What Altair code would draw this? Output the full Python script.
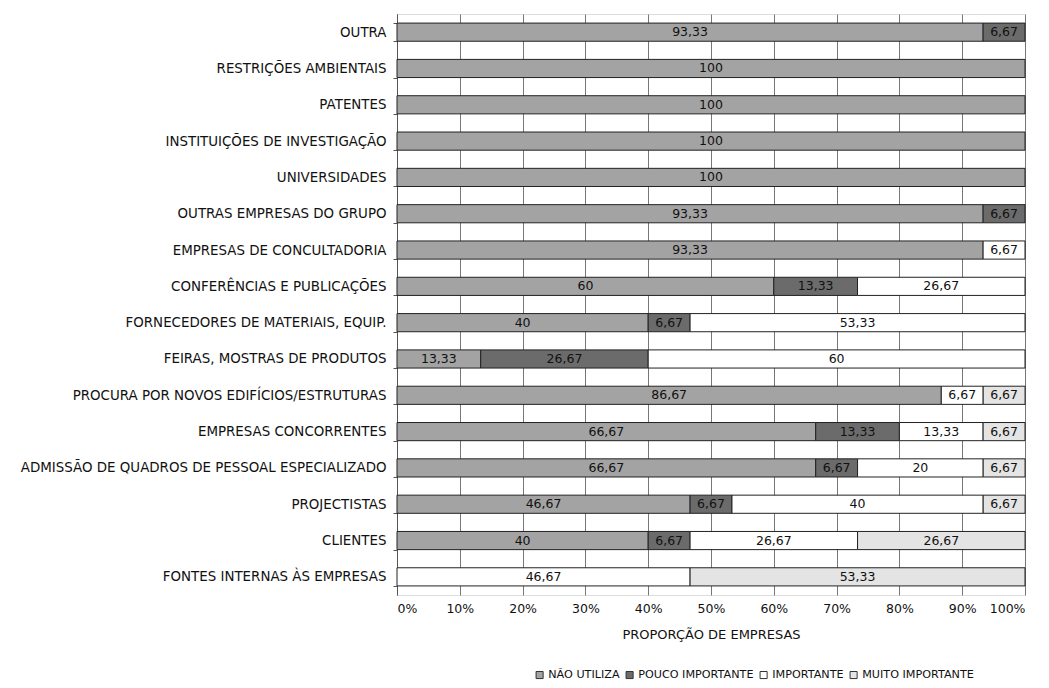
import altair as alt
import pandas as pd

categories = [
    "OUTRA",
    "RESTRIÇÕES AMBIENTAIS",
    "PATENTES",
    "INSTITUIÇÕES DE INVESTIGAÇÃO",
    "UNIVERSIDADES",
    "OUTRAS EMPRESAS DO GRUPO",
    "EMPRESAS DE CONCULTADORIA",
    "CONFERÊNCIAS E PUBLICAÇÕES",
    "FORNECEDORES DE MATERIAIS, EQUIP.",
    "FEIRAS, MOSTRAS DE PRODUTOS",
    "PROCURA POR NOVOS EDIFÍCIOS/ESTRUTURAS",
    "EMPRESAS CONCORRENTES",
    "ADMISSÃO DE QUADROS DE PESSOAL ESPECIALIZADO",
    "PROJECTISTAS",
    "CLIENTES",
    "FONTES INTERNAS ÀS EMPRESAS",
]
series = ["NÃO UTILIZA", "POUCO IMPORTANTE", "IMPORTANTE", "MUITO IMPORTANTE"]
nao_utiliza = [93.33, 100, 100, 100, 100, 93.33, 93.33, 60, 40, 13.33, 86.67, 66.67, 66.67, 46.67, 40, 0]
pouco_importante = [6.67, 0, 0, 0, 0, 6.67, 0, 13.33, 6.67, 26.67, 0, 13.33, 6.67, 6.67, 6.67, 0]
importante = [0, 0, 0, 0, 0, 0, 6.67, 26.67, 53.33, 60, 6.67, 13.33, 20, 40, 26.67, 46.67]
muito_importante = [0, 0, 0, 0, 0, 0, 0, 0, 0, 0, 6.67, 6.67, 6.67, 6.67, 26.67, 53.33]
colors = ["#a3a3a3", "#6b6b6b", "#ffffff", "#e4e4e4"]

rows = []
for si, (name, vals) in enumerate(zip(series, [nao_utiliza, pouco_importante, importante, muito_importante])):
    for c, v in zip(categories, vals):
        if v > 0:
            lab = f"{v:.2f}".rstrip("0").rstrip(".").replace(".", ",")
            rows.append({"cat": c, "serie": name, "ord": si, "value": v, "label": lab})
df = pd.DataFrame(rows)

FONT = "DejaVu Sans"

base = alt.Chart(df).transform_stack(
    stack="value", groupby=["cat"], sort=[alt.SortField("ord")], as_=["x0", "x1"]
).transform_calculate(mid="(datum.x0 + datum.x1) / 2")

yenc = alt.Y("cat:N", sort=categories, title=None,
             scale=alt.Scale(paddingInner=0.5, paddingOuter=0.25),
             axis=alt.Axis(labelFontSize=13.4, labelFont=FONT, labelColor="#111", labelLimit=400,
                           labelPadding=7, tickBand="extent", tickColor="#555", tickSize=4,
                           domainColor="#555", grid=False))

bars = base.mark_bar(stroke="#222", strokeWidth=1).encode(
    x=alt.X("x0:Q", scale=alt.Scale(domain=[0, 100]), title="PROPORÇÃO DE EMPRESAS",
            axis=alt.Axis(values=list(range(0, 101, 10)), labelExpr="datum.value + '%'",
                          labelFontSize=12.5, labelFont=FONT, labelColor="#111", labelPadding=7,
                          tickSize=0, domain=False, grid=True, gridColor="#777", gridWidth=1,
                          titleFont=FONT, titleFontSize=13, titleFontWeight="normal",
                          titleColor="#111", titlePadding=14)),
    x2="x1:Q",
    y=yenc,
    color=alt.Color("serie:N", scale=alt.Scale(domain=series, range=colors),
                    legend=alt.Legend(title=None, orient="none", legendX=137, legendY=655,
                                      direction="horizontal",
                                      symbolType="square", symbolStrokeColor="#333",
                                      symbolStrokeWidth=1, symbolSize=50, labelFont=FONT,
                                      labelFontSize=11.2, labelColor="#111",
                                      columnPadding=4, symbolOffset=0, labelOffset=3)),
)

texts = base.mark_text(font=FONT, fontSize=12.5, color="#111").encode(
    x="mid:Q",
    y=alt.Y("cat:N", sort=categories),
    text="label:N",
)

chart = (bars + texts).properties(
    width=628, height=581,
    autosize=alt.AutoSizeParams(type="none"),
    padding={"left": 389, "top": 6, "right": 16, "bottom": 85},
).configure_view(stroke="#777", strokeWidth=1).configure(background="white")

chart.save("out.html", embed_options={"renderer": "svg", "actions": False})
